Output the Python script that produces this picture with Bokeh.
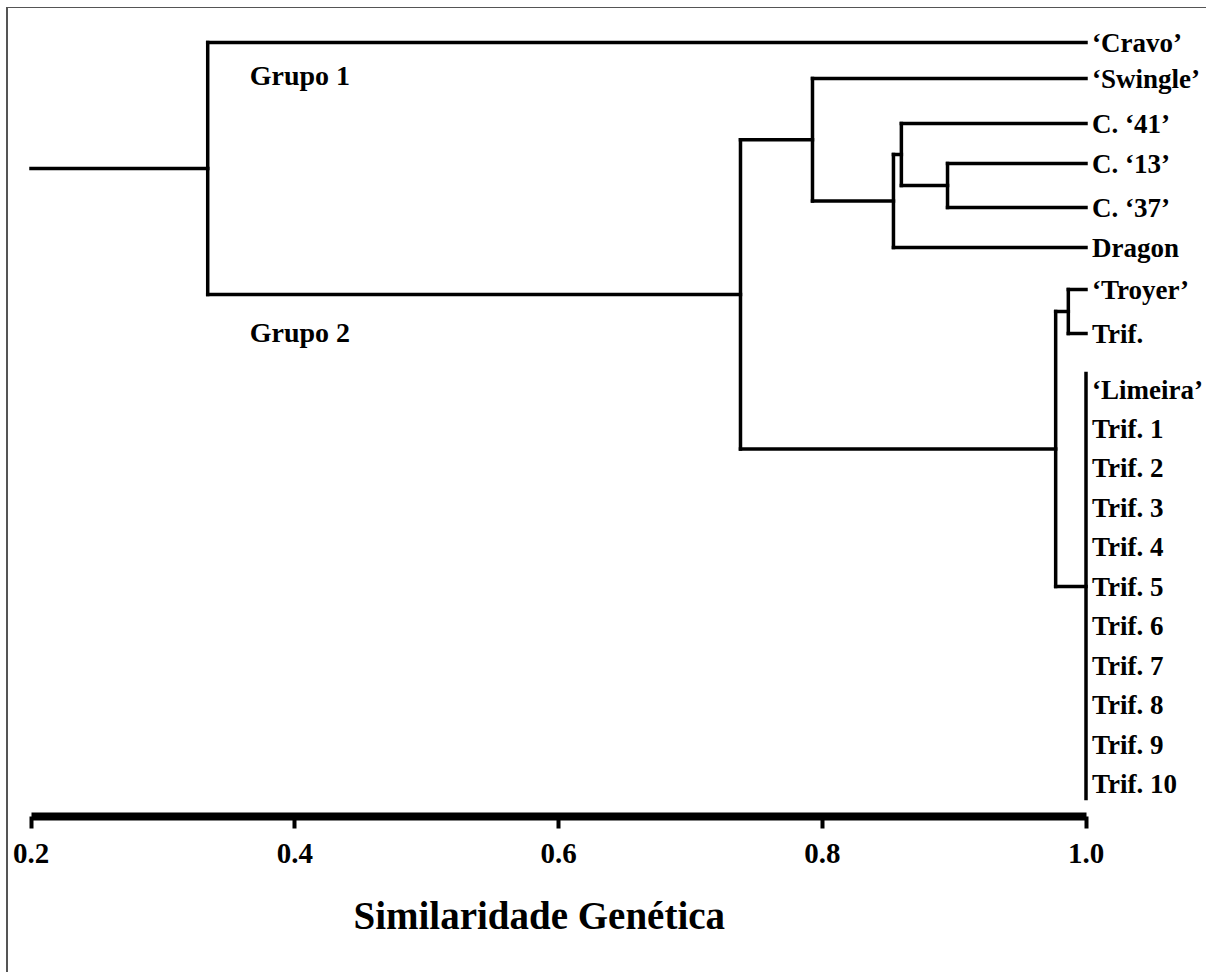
from bokeh.plotting import figure
from bokeh.models import Range1d, LinearAxis, FixedTicker, PrintfTickFormatter, ColumnDataSource, Title
from bokeh.core.properties import value
from bokeh.embed import file_html
from bokeh.resources import INLINE

# ---- data -------------------------------------------------------------
leaves = ["\u2018Cravo\u2019", "\u2018Swingle\u2019", "C. \u201841\u2019", "C. \u201813\u2019",
          "C. \u201837\u2019", "Dragon", "\u2018Troyer\u2019", "Trif.", "\u2018Limeira\u2019",
          "Trif. 1", "Trif. 2", "Trif. 3", "Trif. 4", "Trif. 5", "Trif. 6", "Trif. 7",
          "Trif. 8", "Trif. 9", "Trif. 10"]
# vertical order of the leaves (row position)
leaf_row = [42, 78, 123, 163, 207, 247, 289, 333, 389, 428, 467, 507, 546, 586, 625,
            665, 704, 744, 783]
# leaves 8..18 are identical (similarity 1.0)
identical_group = list(range(8, 19))
# merges: (name, child a, child b, similarity); children are leaf indices or node names
merges = [
    ("n1", 3, 4, 0.895),
    ("n2", 2, "n1", 0.860),
    ("n3", "n2", 5, 0.854),
    ("n4", 1, "n3", 0.7926),
    ("n5", 6, 7, 0.9866),
    ("n6", "n5", "L", 0.977),
    ("n7", "n4", "n6", 0.738),
    ("root", 0, "n7", 0.334),
]
root_start = 0.2
ticks = [0.2, 0.4, 0.6, 0.8, 1.0]
group_labels = ["Grupo 1", "Grupo 2"]
axis_title = "Similaridade Gen\u00e9tica"

# ---- build segments ----------------------------------------------------
pos = {}
for i, y in enumerate(leaf_row):
    pos[i] = (1.0, y)
gy = [leaf_row[i] for i in identical_group]
pos["L"] = (1.0, (min(gy) + max(gy)) / 2)

x0, x1, y0, y1 = [], [], [], []
for name, a, b, s in merges:
    xa, ya = pos[a]
    xb, yb = pos[b]
    x0.append(s); x1.append(s); y0.append(ya); y1.append(yb)
    for (xc, yc) in ((xa, ya), (xb, yb)):
        x0.append(s); x1.append(xc); y0.append(yc); y1.append(yc)
    pos[name] = (s, (ya + yb) / 2)
rx, ry = pos["root"]
x0.append(root_start); x1.append(rx); y0.append(ry); y1.append(ry)
x0.append(1.0); x1.append(1.0); y0.append(min(gy) - 16); y1.append(max(gy) + 15)

seg = ColumnDataSource(dict(x0=x0, x1=x1, y0=y0, y1=y1))

# ---- figure ---------------------------------------------------------------
W, H = 1200, 965
px_per_unit = 1318.75
x_at_02 = 22.5  # canvas px of 0.2
xs = 0.2 - x_at_02 / px_per_unit
xe = 0.2 + (W - x_at_02) / px_per_unit

p = figure(width=W, height=H, output_backend="svg", toolbar_location=None,
           x_range=Range1d(xs, xe), y_range=Range1d(816, 8),
           x_axis_location=None, y_axis_location=None,
           min_border_left=0, min_border_right=0, min_border_top=0,
           min_border_bottom=H - 808)
p.grid.visible = False
p.outline_line_color = None
p.background_fill_color = "white"
p.border_fill_color = "white"
p.styles = {"margin-left": "6px", "margin-top": "7px",
            "border-left": "2px solid #555555", "border-top": "1px solid #555555"}

p.segment(x0="x0", y0="y0", x1="x1", y1="y1", source=seg, line_color="black",
          line_width=3.5, line_cap="square")

lab = ColumnDataSource(dict(x=[1.0] * len(leaves), y=leaf_row, t=leaves))
p.text(x="x", y="y", text="t", source=lab, x_offset=6, text_baseline="middle",
       text_font=value("Liberation Serif"), text_font_style="bold",
       text_font_size="27px", text_color="black")

n7x, n7y = pos["n7"]
p.text(x=[rx, rx], y=[leaf_row[0], n7y], text=group_labels,
       x_offset=42, y_offset=[33, 38], text_baseline="middle",
       text_font=value("Liberation Serif"), text_font_style="bold",
       text_font_size="28px", text_color="black")

ax = LinearAxis(ticker=FixedTicker(ticks=ticks), formatter=PrintfTickFormatter(format="%.1f"),
                bounds=(ticks[0], ticks[-1]))
ax.axis_line_width = 8
ax.axis_line_color = "black"
ax.major_tick_line_width = 4
ax.major_tick_line_color = "black"
ax.major_tick_out = 12
ax.major_tick_in = 0
ax.minor_tick_line_color = None
ax.major_label_standoff = 15
ax.major_label_text_font = "Liberation Serif"
ax.major_label_text_font_style = "bold"
ax.major_label_text_font_size = "29px"
ax.major_label_text_color = "black"
p.add_layout(ax, "below")

t = Title(text=axis_title, align="left", offset=345, standoff=53,
          text_font="Liberation Serif", text_font_style="bold",
          text_font_size="39px", text_color="black")
p.add_layout(t, "below")

open("out.html", "w").write(file_html(p, INLINE))
